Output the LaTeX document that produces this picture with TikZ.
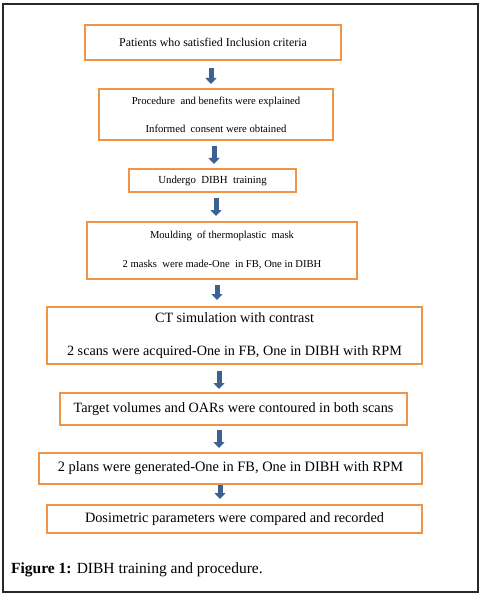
\documentclass[tikz,border=0pt]{standalone}
\usepackage{fontspec}
\setmainfont{Liberation Serif}
\usetikzlibrary{arrows.meta}
\definecolor{boxorange}{RGB}{240,148,72}
\definecolor{arrowblue}{RGB}{60,98,146}
\definecolor{frame}{RGB}{40,40,40}
\tikzset{
  stepbox/.style={draw=boxorange, line width=2pt, rectangle, inner sep=0pt, align=center, text=black},
  flowarrow/.style={draw=arrowblue, line width=5pt, -{Triangle[width=11pt,length=6pt]}},
}
\begin{document}
\begin{tikzpicture}[x=1pt,y=-1pt]
\useasboundingbox (0,0) rectangle (482,596);
\draw[frame, line width=1.3pt] (3,4) rectangle (478,592);

\node[stepbox, minimum width=256pt, minimum height=35pt, font=\fontsize{11.9}{13}\selectfont] (b1) at (213,42.5) {Patients who satisfied Inclusion criteria};
\node[stepbox, minimum width=234pt, minimum height=51pt, font=\fontsize{10.7}{28}\selectfont] (b2) at (216,114.5) {Procedure\ \ and benefits were explained\\Informed\ \ consent were obtained};
\node[stepbox, minimum width=167pt, minimum height=23pt, font=\fontsize{10.8}{13}\selectfont] (b3) at (212.5,180.5) {Undergo\ \ DIBH\ \ training};
\node[stepbox, minimum width=270pt, minimum height=57pt, font=\fontsize{10.6}{29}\selectfont] (b4) at (222,250.5) {Moulding\ \ of thermoplastic\ \ mask\\2 masks\ \ were made-One\ \ in FB, One in DIBH};
\node[stepbox, minimum width=375pt, minimum height=57pt, font=\fontsize{14.2}{33}\selectfont] (b5) at (234.5,335.5) {CT simulation with contrast\\2 scans were acquired-One in FB, One in DIBH with RPM};
\node[stepbox, minimum width=347pt, minimum height=32pt, font=\fontsize{14.2}{17}\selectfont] (b6) at (233.5,409) {Target volumes and OARs were contoured in both scans};
\node[stepbox, minimum width=383pt, minimum height=31pt, font=\fontsize{14.4}{17}\selectfont] (b7) at (230.5,468.5) {2 plans were generated-One in FB, One in DIBH with RPM};
\node[stepbox, minimum width=375pt, minimum height=28pt, font=\fontsize{14.3}{17}\selectfont] (b8) at (234.5,519) {Dosimetric parameters were compared and recorded};

\node[anchor=west, inner sep=0pt, font=\fontsize{15.5}{18}\selectfont] (cap) at (11,570) {\textbf{Figure 1:} DIBH training and procedure.};

\draw[flowarrow, shorten <=7pt, shorten >=4pt] ([xshift=-2pt]b1.south) -- ([xshift=-2pt]b1.south |- b2.north);
\draw[flowarrow, shorten <=5pt, shorten >=4pt] ([xshift=-2pt]b2.south) -- ([xshift=-2pt]b2.south |- b3.north);
\draw[flowarrow, shorten <=5pt, shorten >=5pt] ([xshift=3.5pt]b3.south) -- ([xshift=3.5pt]b3.south |- b4.north);
\draw[flowarrow, shorten <=5pt, shorten >=6pt] ([xshift=-5pt]b4.south) -- ([xshift=-5pt]b4.south |- b5.north);
\draw[flowarrow, shorten <=6pt, shorten >=3pt] ([xshift=-15.5pt]b5.south) -- ([xshift=-15.5pt]b5.south |- b6.north);
\draw[flowarrow, shorten <=4pt, shorten >=4pt] ([xshift=-14.5pt]b6.south) -- ([xshift=-14.5pt]b6.south |- b7.north);
\draw[flowarrow, shorten <=0pt, shorten >=5pt] ([xshift=-10.5pt]b7.south) -- ([xshift=-10.5pt]b7.south |- b8.north);
\end{tikzpicture}
\end{document}
